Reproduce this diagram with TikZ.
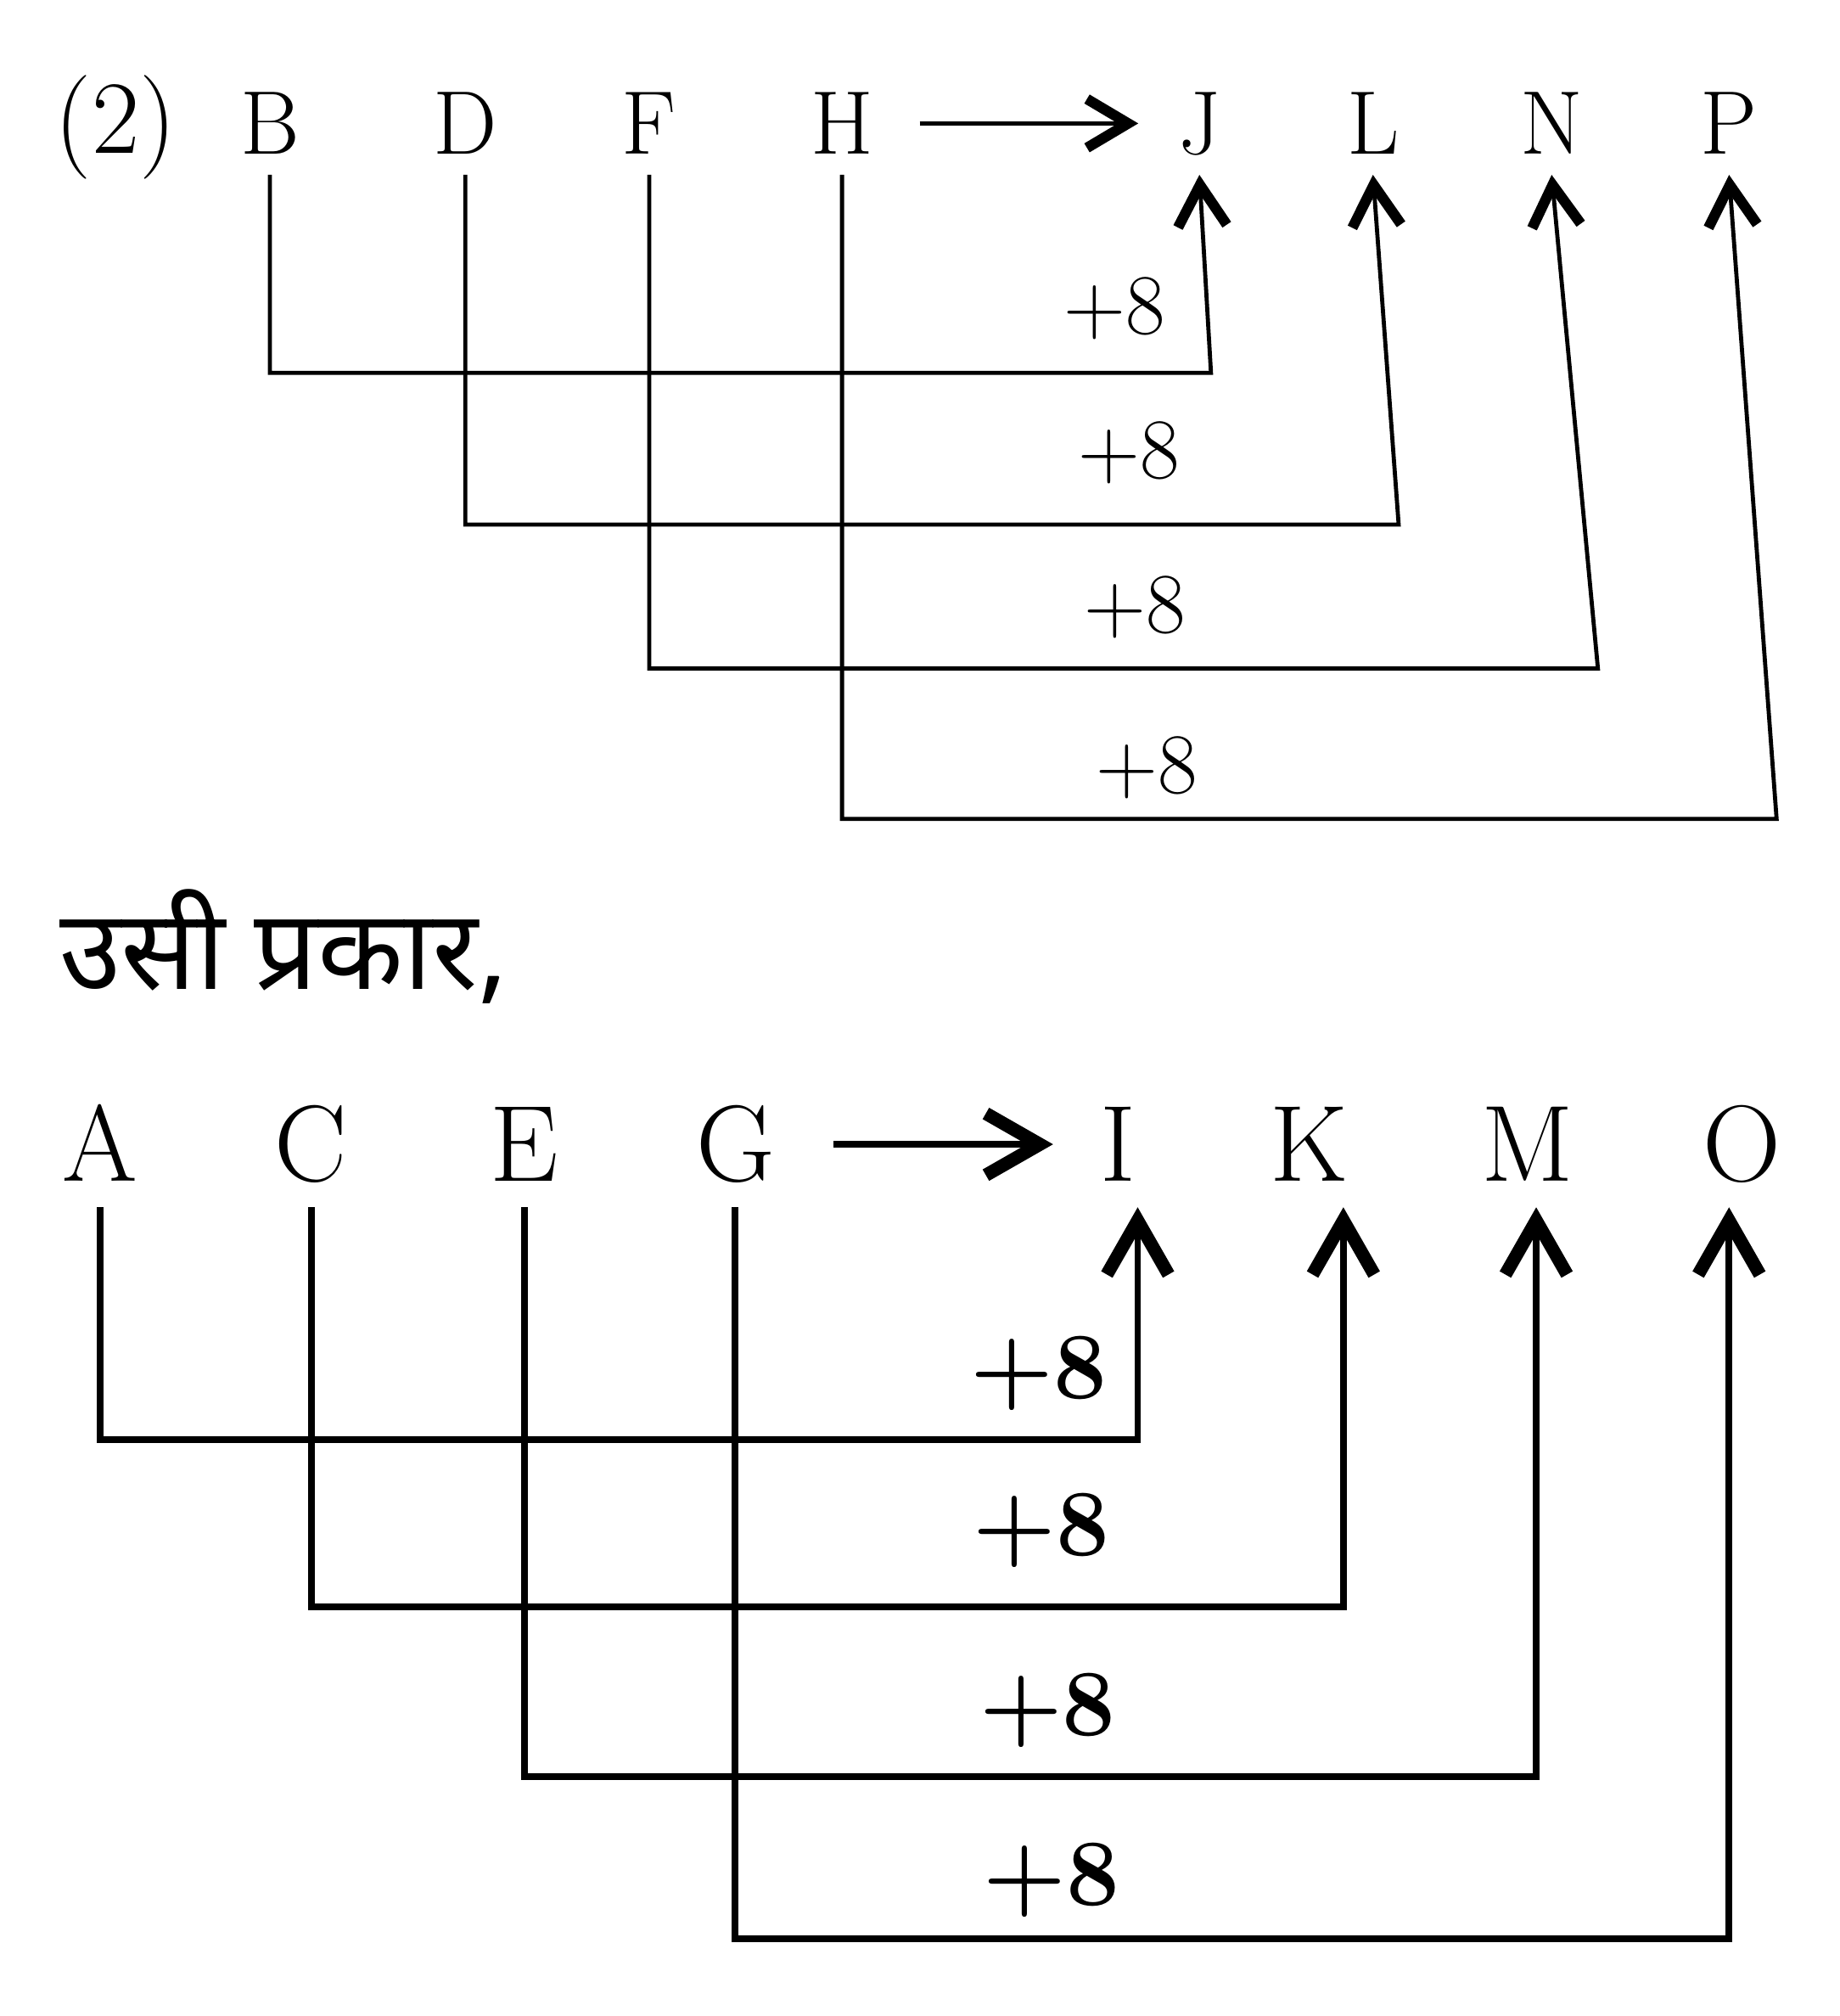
\documentclass[tikz,border=0pt]{standalone}
\usepackage{fontspec}
\newfontfamily\hindifont[Script=Devanagari]{Noto Sans}
\usetikzlibrary{arrows.meta}

\begin{document}
\begin{tikzpicture}[
  ltra/.style={font=\fontsize{20}{24}\selectfont, inner sep=0pt,
               outer sep=0.16cm, text height=0.48cm, text depth=0pt},
  ltrb/.style={font=\fontsize{24}{28}\selectfont, inner sep=0pt,
               outer sep=0.2cm, text height=0.58cm, text depth=0pt},
  upa/.style={line width=0.9pt,
              -{Straight Barb[length=3.2mm, width=3.8mm, line width=2.3pt]}},
  upb/.style={line width=1.5pt,
              -{Straight Barb[length=4.2mm, width=4.8mm, line width=2.9pt]}},
  hza/.style={upa, shorten <=0.2cm, shorten >=0.15cm},
  hzb/.style={upb, shorten <=0.26cm, shorten >=0.17cm},
  plusa/.style={font=\fontsize{19}{22}\selectfont},
  plusb/.style={font=\bfseries\fontsize{21}{24}\selectfont}
]
\useasboundingbox (0,0) rectangle (14.31,-15.68);

% first series
\node[font=\fontsize{23}{26}\selectfont] (num) at (0.90,-0.99) {(2)};
\node[ltra] (B) at (2.10,-0.96) {B};
\node[ltra] (D) at (3.62,-0.96) {D};
\node[ltra] (F) at (5.05,-0.96) {F};
\node[ltra] (H) at (6.55,-0.96) {H};
\node[ltra] (J) at (9.33,-0.96) {J};
\node[ltra] (L) at (10.68,-0.96) {L};
\node[ltra] (N) at (12.07,-0.96) {N};
\node[ltra] (P) at (13.45,-0.96) {P};

\coordinate (cJ) at (9.42,-2.90);
\coordinate (cL) at (10.88,-4.08);
\coordinate (cN) at (12.43,-5.20);
\coordinate (cP) at (13.82,-6.37);

\draw[hza] (H) -- (J);
\draw[upa] (B.south) |- (cJ) -- (J.south);
\draw[upa] (D.south) |- (cL) -- (L.south);
\draw[upa] (F.south) |- (cN) -- (N.south);
\draw[upa] (H.south) |- (cP) -- (P.south);

\node[plusa] (pa1) at (8.67,-2.40) {+8};
\node[plusa] (pa2) at (8.78,-3.52) {+8};
\node[plusa] (pa3) at (8.83,-4.72) {+8};
\node[plusa] (pa4) at (8.92,-5.97) {+8};

% same way
\node[font=\hindifont\fontsize{24.7}{28}\selectfont, anchor=west] (txt)
  at (0.34,-7.36) {उसी प्रकार,};

% second series
\node[ltrb] (A) at (0.78,-8.90) {A};
\node[ltrb] (C) at (2.42,-8.90) {C};
\node[ltrb] (E) at (4.08,-8.90) {E};
\node[ltrb] (G) at (5.72,-8.90) {G};
\node[ltrb] (I) at (8.70,-8.90) {I};
\node[ltrb] (K) at (10.18,-8.90) {K};
\node[ltrb] (M) at (11.88,-8.90) {M};
\node[ltrb] (O) at (13.55,-8.90) {O};

\coordinate (cI) at (8.85,-11.20);
\coordinate (cK) at (10.45,-12.50);
\coordinate (cM) at (11.95,-13.82);
\coordinate (cO) at (13.45,-15.08);

\draw[hzb] (G) -- (I);
\draw[upb] (A.south) |- (cI) -- (cI |- I.south);
\draw[upb] (C.south) |- (cK) -- (cK |- K.south);
\draw[upb] (E.south) |- (cM) -- (cM |- M.south);
\draw[upb] (G.south) |- (cO) -- (cO |- O.south);

\node[plusb] (pb1) at (8.08,-10.68) {+8};
\node[plusb] (pb2) at (8.10,-11.90) {+8};
\node[plusb] (pb3) at (8.15,-13.30) {+8};
\node[plusb] (pb4) at (8.18,-14.62) {+8};

\end{tikzpicture}
\end{document}
